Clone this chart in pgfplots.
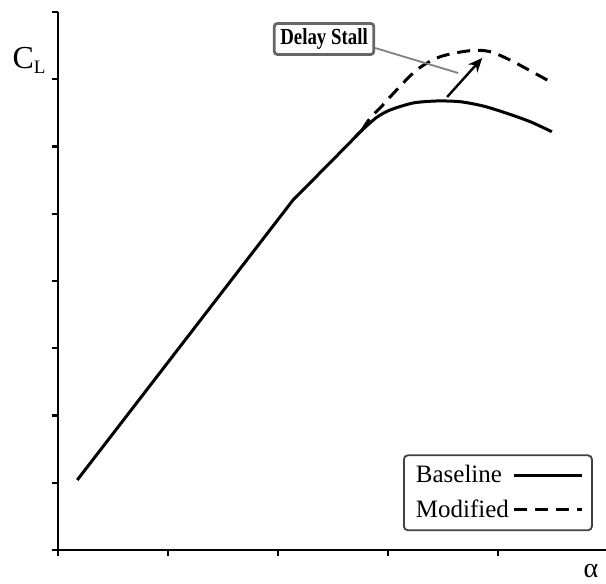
\documentclass[border=0pt]{standalone}
\usepackage{fontspec}
\setmainfont{Liberation Serif}
\newfontfamily\narrowfont[FakeStretch=0.82]{Liberation Serif}
\usepackage{pgfplots}
\pgfplotsset{compat=1.18}
\usetikzlibrary{arrows.meta}
\begin{document}
\begin{tikzpicture}
\useasboundingbox (-29pt,-17pt) rectangle (274pt,275pt);
\begin{axis}[
  at={(0,0)}, anchor=south west,
  scale only axis, width=274pt, height=269pt,
  xmin=0, xmax=4.98, ymin=0, ymax=8,
  axis lines=left,
  axis line style={-, line width=1.4pt},
  xtick={0,1,2,3,4}, ytick={0,1,2,3,4,5,6,7,8},
  xticklabels={}, yticklabels={},
  tick align=outside, major tick length=3pt,
  tick style={line width=1.1pt, black},
  clip=false,
  legend plot pos=right,
  legend cell align=left,
  legend image code/.code={\draw[#1] (0pt,0pt) -- (34pt,0pt);},
  legend style={at={(rel axis cs:0.976,0.035)}, anchor=south east,
    draw=black!75, line width=0.9pt, rounded corners=2pt,
    font=\fontsize{12.5}{14}\selectfont, row sep=3pt,
    inner xsep=4pt, inner ysep=3pt,
    /tikz/every even column/.append style={column sep=4pt}},
]
\addplot[black, line width=1.5pt] coordinates {
 (0.175,1.041) (2.136,5.204) (2.473,5.76) (2.764,6.245)};
\addlegendentry{Baseline}
\addplot[black, line width=1.5pt, dash pattern=on 6.5pt off 4pt, smooth, tension=0.5] coordinates {
 (2.764,6.245) (2.836,6.42) (2.943,6.60) (3.048,6.79) (3.261,7.14)
 (3.473,7.335) (3.745,7.425) (3.927,7.41) (4.139,7.26) (4.488,6.95)};
\addlegendentry{Modified}
\addplot[black, line width=1.5pt, smooth, tension=0.45, forget plot] coordinates {
 (2.70,6.14) (2.764,6.245)
 (2.897,6.434) (3.018,6.543) (3.227,6.647) (3.443,6.677) (3.655,6.666)
 (3.864,6.602) (4.079,6.494) (4.291,6.369) (4.488,6.220)};
\draw[gray, line width=0.9pt] (axis cs:2.882,7.465) -- (axis cs:3.636,7.093);
\draw[black, line width=1.2pt, -{Stealth[length=7pt,width=6pt]}] (axis cs:3.536,6.736) -- (axis cs:3.855,7.316);
\node[draw=black!60, line width=1.4pt, rounded corners=1.5pt, fill=white,
  inner xsep=3pt, inner ysep=2.5pt, font=\narrowfont\bfseries\fontsize{11.5}{12}\selectfont]
  at (axis cs:2.418,7.599) {Delay Stall};
\end{axis}
\node at (-14.5pt,245pt) {\fontsize{16}{17}\selectfont C\raisebox{-0.35ex}{\fontsize{9.5}{10}\selectfont L}};
\node[inner sep=0pt] at (266.5pt,-10.5pt) {\fontsize{14}{15}\selectfont α};
\end{tikzpicture}
\end{document}
